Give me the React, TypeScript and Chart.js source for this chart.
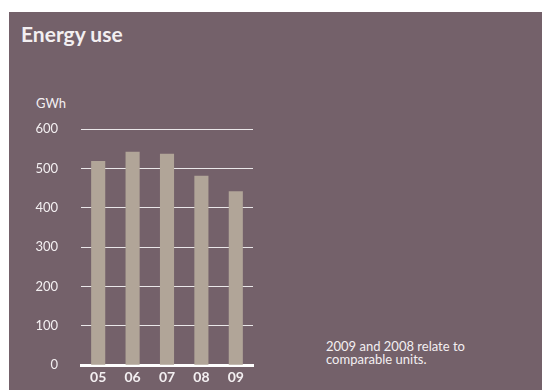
import React, { useEffect, useRef } from "react";
import { Chart, registerables } from "chart.js";

Chart.register(...registerables);

const categories = ["05", "06", "07", "08", "09"];
const energyGWh = [519, 542, 537, 481, 442];
const yTicks = [0, 100, 200, 300, 400, 500, 600];
const title = "Energy use";
const unitLabel = "GWh";
const noteLines = ["2009 and 2008 relate to", "comparable units."];

const BG = "#74616A";
const BAR = "#B1A598";
const TEXT = "#F3EFF1";
const FONT = "Lato, 'Noto Sans', sans-serif";

export default function App() {
  const ref = useRef<HTMLCanvasElement | null>(null);

  useEffect(() => {
    if (!ref.current) return;
    const chart = new Chart(ref.current, {
      type: "bar",
      data: {
        labels: categories,
        datasets: [
          {
            data: energyGWh,
            backgroundColor: BAR,
            borderWidth: 0,
            barPercentage: 0.41,
            categoryPercentage: 1,
          },
        ],
      },
      options: {
        animation: false,
        responsive: false,
        maintainAspectRatio: false,
        layout: { padding: { top: 117, right: 16, bottom: 0, left: 0 } },
        plugins: { legend: { display: false }, tooltip: { enabled: false } },
        scales: {
          x: {
            grid: { display: false, drawTicks: false },
            border: { display: true, color: "#FFFFFF", width: 3 },
            ticks: {
              color: TEXT,
              font: { family: FONT, size: 14, weight: "bold" },
              padding: 4,
            },
          },
          y: {
            min: 0,
            max: 600,
            afterBuildTicks: (s: any) => {
              s.ticks = yTicks.map((v) => ({ value: v }));
            },
            grid: {
              color: "rgba(255,255,255,0.85)",
              lineWidth: 1,
              drawTicks: false,
            },
            border: { display: false },
            ticks: {
              color: TEXT,
              font: { family: FONT, size: 13 },
              padding: 23,
            },
            afterFit: (s: any) => {
              s.width = 72;
            },
          },
        },
      },
    });
    return () => chart.destroy();
  }, []);

  return (
    <div
      style={{
        position: "fixed",
        left: 9,
        top: 12,
        width: 533,
        height: 378,
        background: BG,
        fontFamily: FONT,
        color: TEXT,
        overflow: "hidden",
      }}
    >
      <div
        style={{
          position: "absolute",
          left: 12,
          top: 8,
          fontSize: 21,
          fontWeight: "bold",
          lineHeight: "28px",
        }}
      >
        {title}
      </div>
      <div
        style={{
          position: "absolute",
          left: 27,
          top: 82,
          fontSize: 13,
          lineHeight: "18px",
        }}
      >
        {unitLabel}
      </div>
      <canvas
        ref={ref}
        width={260}
        height={384}
        style={{ position: "absolute", left: 0, top: 0, width: 260, height: 384 }}
      />
      <div
        style={{
          position: "absolute",
          left: 317,
          top: 328,
          fontSize: 13,
          lineHeight: "13px",
        }}
      >
        {noteLines.map((l, i) => (
          <div key={i}>{l}</div>
        ))}
      </div>
    </div>
  );
}
